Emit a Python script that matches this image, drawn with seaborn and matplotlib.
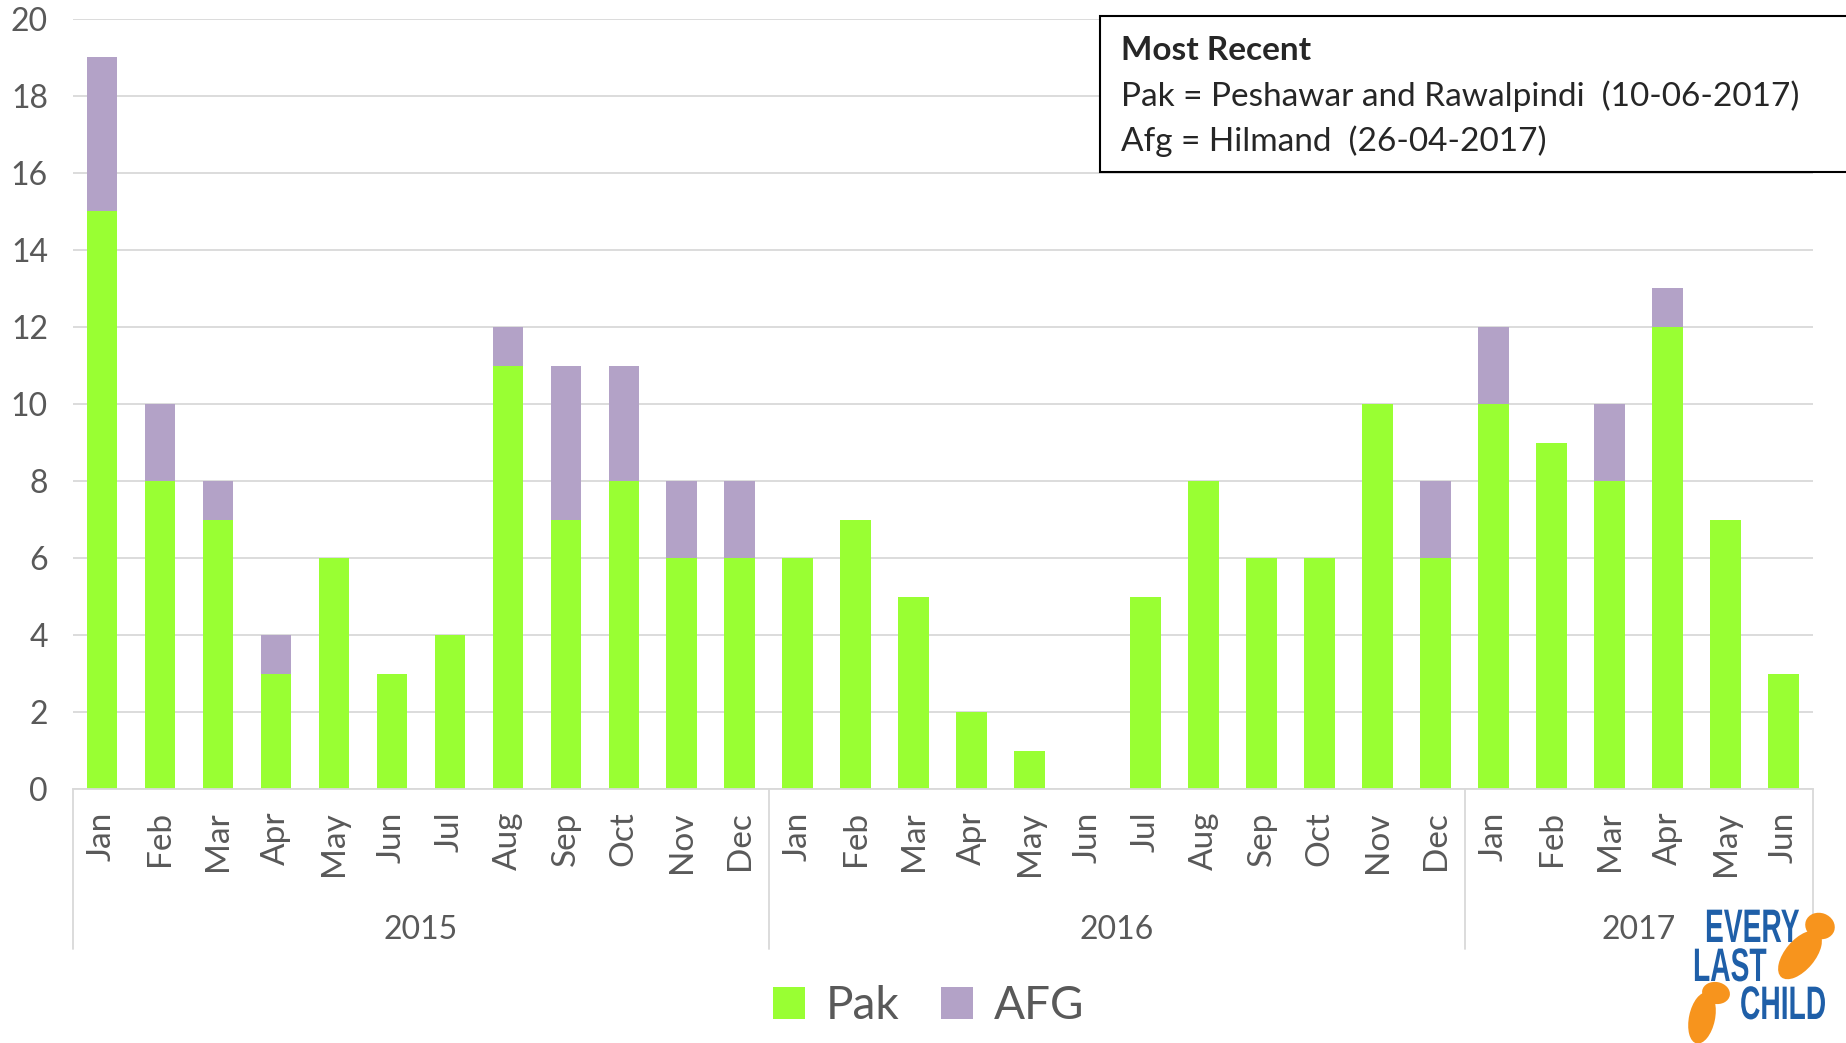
import pandas as pd
import seaborn as sns
import matplotlib.pyplot as plt
from matplotlib.patches import Rectangle, Ellipse, PathPatch
from matplotlib.textpath import TextPath
from matplotlib.font_manager import FontProperties
from matplotlib.transforms import Affine2D, IdentityTransform

# --- data ---
years = ['2015', '2016', '2017']
months_2015 = ['Jan', 'Feb', 'Mar', 'Apr', 'May', 'Jun', 'Jul', 'Aug', 'Sep', 'Oct', 'Nov', 'Dec']
months_2016 = ['Jan', 'Feb', 'Mar', 'Apr', 'May', 'Jun', 'Jul', 'Aug', 'Sep', 'Oct', 'Nov', 'Dec']
months_2017 = ['Jan', 'Feb', 'Mar', 'Apr', 'May', 'Jun']

pak_2015 = [15, 8, 7, 3, 6, 3, 4, 11, 7, 8, 6, 6]
afg_2015 = [4, 2, 1, 1, 0, 0, 0, 1, 4, 3, 2, 2]
pak_2016 = [6, 7, 5, 2, 1, 0, 5, 8, 6, 6, 10, 6]
afg_2016 = [0, 0, 0, 0, 0, 0, 0, 0, 0, 0, 0, 2]
pak_2017 = [10, 9, 8, 12, 7, 3]
afg_2017 = [2, 0, 2, 1, 0, 0]

GREEN = '#99FF33'
PURPLE = '#B3A2C7'
GREY_TXT = '#595959'
GRID = '#D9D9D9'
LOGO_BLUE = '#1F5FA8'
LOGO_ORANGE = '#F7941D'

rows = []
for yr, months, pak, afg in zip(years,
                                [months_2015, months_2016, months_2017],
                                [pak_2015, pak_2016, pak_2017],
                                [afg_2015, afg_2016, afg_2017]):
    for m, p, a in zip(months, pak, afg):
        rows.append({'key': f'{yr}-{m}', 'year': yr, 'month': m, 'Pak': p, 'AFG': a})
df = pd.DataFrame(rows)
df['total'] = df['Pak'] + df['AFG']

sns.set_theme(style='white')
plt.rcParams['font.family'] = ['Lato', 'DejaVu Sans']

W, H = 1846, 1043
fig = plt.figure(figsize=(W / 100, H / 100), dpi=100)
ax = fig.add_axes([0.0395, 0.2435, 0.9425, 0.7383])

# stacked: total (AFG colour) underneath, Pak on top
sns.barplot(data=df, x='key', y='total', color=PURPLE, saturation=1, width=0.53,
            linewidth=0, ax=ax, label='AFG')
sns.barplot(data=df, x='key', y='Pak', color=GREEN, saturation=1, width=0.53,
            linewidth=0, ax=ax, label='Pak')

ax.set_xlim(-0.5, len(df) - 0.5)
ax.set_ylim(0, 20)
ax.set_yticks(range(0, 21, 2))
ax.yaxis.grid(True, color=GRID, linewidth=1.3)
ax.set_axisbelow(True)
for s in ['left', 'right', 'top']:
    ax.spines[s].set_visible(False)
ax.spines['bottom'].set_color(GRID)
ax.spines['bottom'].set_linewidth(1.3)

ax.set_xticks(range(len(df)))
ax.set_xticklabels(df['month'], rotation=90, fontsize=24, color=GREY_TXT)
ax.tick_params(axis='x', length=0, pad=16)
ax.tick_params(axis='y', length=0, pad=18, labelsize=23, labelcolor=GREY_TXT)
ax.set_xlabel('')
ax.set_ylabel('')

# year groups
trans = ax.get_xaxis_transform()
bounds = [-0.5, 11.5, 23.5, 29.5]
for b in bounds:
    ax.plot([b, b], [0, -0.208], transform=trans, color=GRID, lw=1.3, clip_on=False)
for i, yr in enumerate(years):
    mid = (bounds[i] + bounds[i + 1]) / 2
    ax.text(mid, -0.183, yr, transform=trans, ha='center', va='center',
            fontsize=23, color=GREY_TXT)

# legend
h, l = ax.get_legend_handles_labels()
order = [l.index('Pak'), l.index('AFG')]
fig.legend([h[i] for i in order], [l[i] for i in order], loc='center',
           bbox_to_anchor=(0.503, 0.035), ncol=2, frameon=False, fontsize=33,
           handlelength=0.7, handleheight=0.7, handletextpad=0.45, columnspacing=0.9,
           labelcolor=GREY_TXT)

# "Most Recent" box
fig.patches.append(Rectangle((0.596, 0.835), 0.41, 0.150, transform=fig.transFigure,
                             fill=True, facecolor='white', edgecolor='black', lw=1.5, zorder=5))
fig.text(0.607, 0.952, 'Most Recent', fontsize=24, fontweight='bold', va='center', zorder=6)
fig.text(0.607, 0.908, 'Pak = Peshawar and Rawalpindi  (10-06-2017)', fontsize=24, va='center', zorder=6)
fig.text(0.607, 0.865, 'Afg = Hilmand  (26-04-2017)', fontsize=24, va='center', zorder=6)

# logo (rough approximation): condensed bold words + two orange feet, in pixel coords
logo_font = FontProperties(family='Liberation Sans', weight='bold')
for word, x0, base in [('EVERY', 1705, 942), ('LAST', 1693, 981), ('CHILD', 1740, 1019)]:
    tp = TextPath((0, 0), word, size=47, prop=logo_font)
    tr = Affine2D().scale(0.6, 1).translate(x0, H - base)
    fig.patches.append(PathPatch(tp, transform=tr, facecolor=LOGO_BLUE, edgecolor='none', zorder=7))

feet = [
    # (cx, cy from top, width, height, angle)
    (1800, 955, 30, 58, -40),
    (1820, 926, 30, 26, -20),
    (1702, 1018, 26, 52, -12),
    (1716, 993, 28, 22, -10),
]
for cx, cy, w, hgt, ang in feet:
    fig.patches.append(Ellipse((cx, H - cy), w, hgt, angle=ang, transform=IdentityTransform(),
                               facecolor=LOGO_ORANGE, edgecolor='none', zorder=6))

fig.savefig('out.png', dpi=100)
